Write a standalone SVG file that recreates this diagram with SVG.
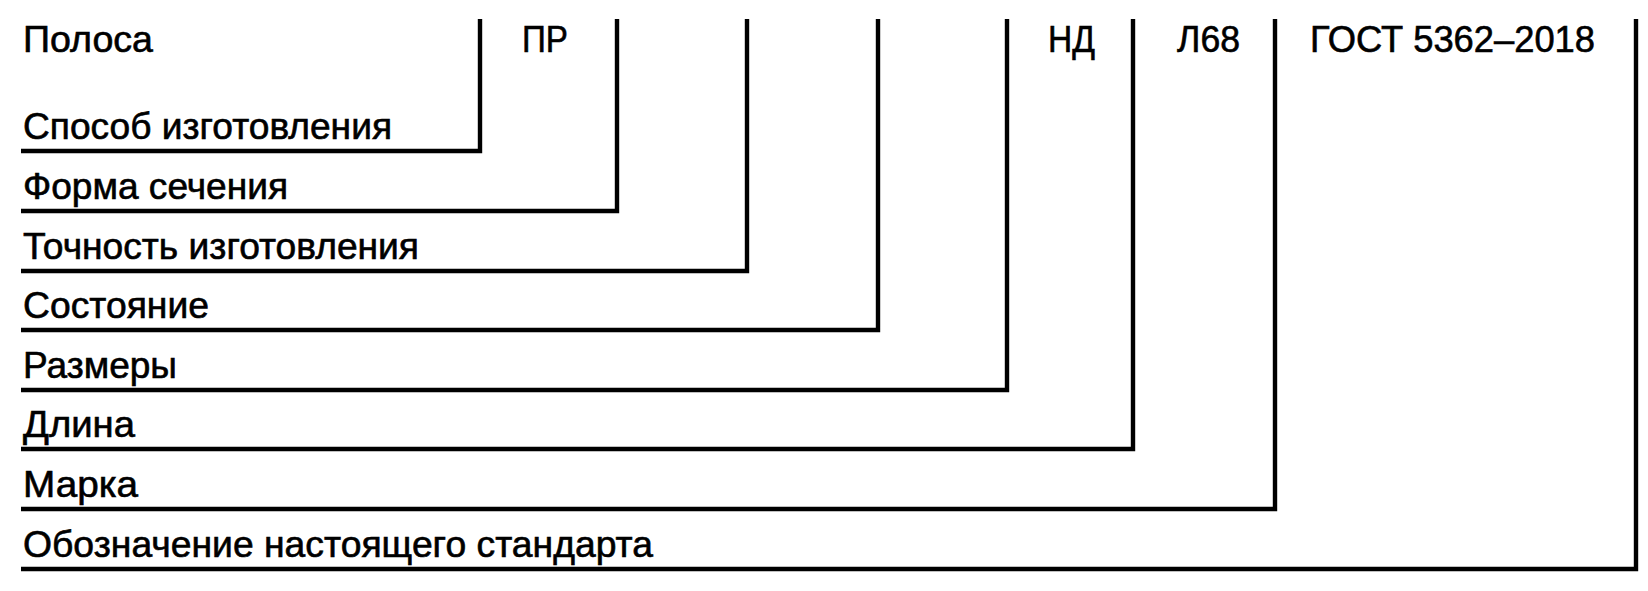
<svg xmlns="http://www.w3.org/2000/svg" width="1648" height="591" viewBox="0 0 1648 591">
<style>
text{font-family:"Liberation Sans",Arial,sans-serif;font-size:36px;fill:#000;stroke:#000;stroke-width:0.6}
.c{fill:none;stroke:#000;stroke-width:4.4;stroke-linejoin:miter;stroke-linecap:butt}
</style>
<rect x="0" y="0" width="1648" height="591" fill="#fff"/>
<g id="connectors">
<path class="c" d="M21 151 H480 V19"/>
<path class="c" d="M21 211 H617 V19"/>
<path class="c" d="M21 271 H747 V19"/>
<path class="c" d="M21 330 H878 V19"/>
<path class="c" d="M21 390 H1007 V19"/>
<path class="c" d="M21 449 H1133 V19"/>
<path class="c" d="M21 509 H1275 V19"/>
<path class="c" d="M21 569 H1636 V19"/>
</g>
<g id="title"><text x="23" y="52" textLength="130" lengthAdjust="spacingAndGlyphs">Полоса</text></g>
<g id="code-pr"><text x="522" y="52" textLength="46" lengthAdjust="spacingAndGlyphs">ПР</text></g>
<g id="code-nd"><text x="1048" y="52" textLength="47" lengthAdjust="spacingAndGlyphs">НД</text></g>
<g id="code-l68"><text x="1177" y="52" textLength="63" lengthAdjust="spacingAndGlyphs">Л68</text></g>
<g id="code-gost"><text x="1310" y="52" textLength="285" lengthAdjust="spacingAndGlyphs">ГОСТ 5362–2018</text></g>
<g id="label-method"><text x="23" y="139" textLength="369" lengthAdjust="spacingAndGlyphs">Способ изготовления</text></g>
<g id="label-shape"><text x="23" y="199" textLength="265" lengthAdjust="spacingAndGlyphs">Форма сечения</text></g>
<g id="label-accuracy"><text x="23" y="259" textLength="396" lengthAdjust="spacingAndGlyphs">Точность изготовления</text></g>
<g id="label-state"><text x="23" y="318" textLength="186" lengthAdjust="spacingAndGlyphs">Состояние</text></g>
<g id="label-size"><text x="23" y="378" textLength="154" lengthAdjust="spacingAndGlyphs">Размеры</text></g>
<g id="label-length"><text x="23" y="437" textLength="112" lengthAdjust="spacingAndGlyphs">Длина</text></g>
<g id="label-grade"><text x="23" y="497" textLength="115" lengthAdjust="spacingAndGlyphs">Марка</text></g>
<g id="label-standard"><text x="23" y="557" textLength="630" lengthAdjust="spacingAndGlyphs">Обозначение настоящего стандарта</text></g>
</svg>
